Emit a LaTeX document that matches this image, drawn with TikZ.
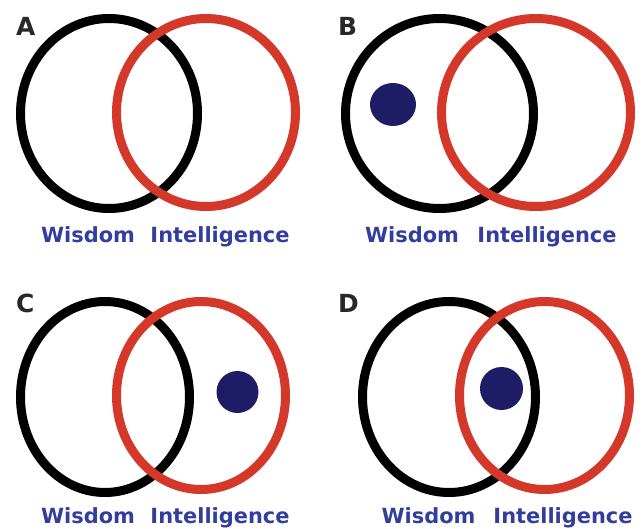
\documentclass[tikz,border=0pt]{standalone}
\usepackage{fontspec}
\setmainfont{DejaVu Sans}
\usetikzlibrary{positioning}
\definecolor{ringred}{RGB}{211,56,42}
\definecolor{dotnavy}{RGB}{30,28,100}
\definecolor{lblblue}{RGB}{50,62,158}
\definecolor{tagdark}{RGB}{40,40,40}
\tikzset{
  wisring/.style={draw=black, line width=9bp},
  intring/.style={draw=ringred, line width=9bp},
  blob/.style={fill=dotnavy},
  setlbl/.style={text=lblblue, font=\bfseries\fontsize{21}{21}\selectfont, anchor=base, inner sep=0pt},
  paneltag/.style={text=tagdark, font=\bfseries\fontsize{25}{25}\selectfont, anchor=base west, inner sep=0pt}
}
\begin{document}
\begin{tikzpicture}[x=1bp, y=-1bp]
	\useasboundingbox (0,0) rectangle (644,529);
	
	% A: the two sets alone
	\draw[wisring] (109,113.5) ellipse (88.5 and 95);
	\draw[intring] (206,112.5) ellipse (89.5 and 94);
	\node[paneltag] (tagA) at (16,36) {A};
	\node[setlbl] (wisA) at (88,243) {Wisdom};
	\node[setlbl] (intA) at (220,243) {Intelligence};
	
	% B: dot inside wisdom only
	\draw[wisring] (439.5,113.5) ellipse (94 and 95);
	\draw[intring] (536,112.5) ellipse (94.5 and 94);
	\fill[blob] (393,104.5) ellipse (23 and 21.5);
	\node[paneltag] (tagB) at (338,36) {B};
	\node[setlbl] (wisB) at (412,243) {Wisdom};
	\node[setlbl] (intB) at (547,243) {Intelligence};
	
	% C: dot inside intelligence only
	\draw[wisring] (105,397) ellipse (84.5 and 95.5);
	\draw[intring] (201,395.5) ellipse (84.5 and 94);
	\fill[blob] (237.5,392) circle (21);
	\node[paneltag] (tagC) at (16,312) {C};
	\node[setlbl] (wisC) at (88,523) {Wisdom};
	\node[setlbl] (intC) at (220,523) {Intelligence};
	
	% D: dot in the overlap
	\draw[wisring] (449,397) ellipse (86.5 and 95.5);
	\draw[intring] (544.5,395.5) ellipse (85 and 94);
	\fill[blob] (501.5,388.5) circle (21.5);
	\node[paneltag] (tagD) at (338,312) {D};
	\node[setlbl] (wisD) at (428.5,523) {Wisdom};
	\node[setlbl] (intD) at (563,523) {Intelligence};
	
\end{tikzpicture}
\end{document}
